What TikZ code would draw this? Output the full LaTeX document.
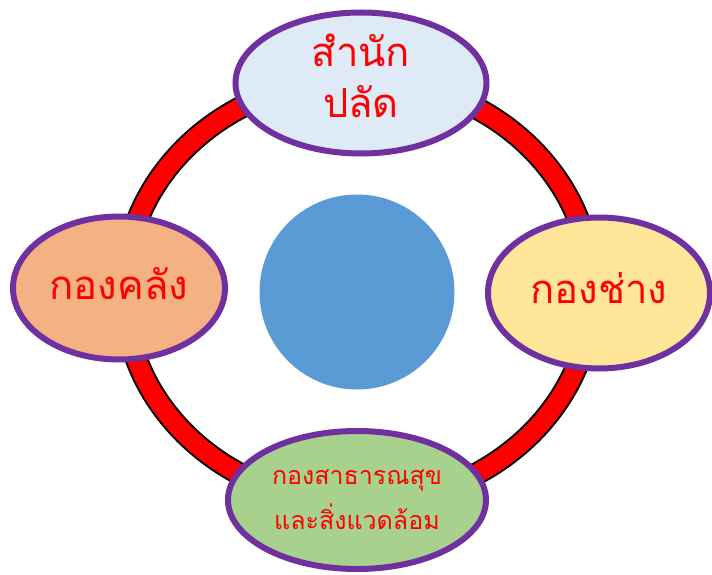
\documentclass[tikz,border=0pt]{standalone}
\usepackage{fontspec}
\newfontfamily\thaifont[Script=Thai]{Loma}
\usetikzlibrary{shapes.geometric}
\definecolor{ringred}{HTML}{FF0000}
\definecolor{bordpurple}{HTML}{7030A0}
\definecolor{centerblue}{HTML}{5B9BD5}
\definecolor{fillblue}{HTML}{DEEBF7}
\definecolor{fillorange}{HTML}{F4B183}
\definecolor{fillyellow}{HTML}{FFE699}
\definecolor{fillgreen}{HTML}{A9D18E}
\newcommand{\upl}[2][9pt]{\raisebox{#1}{#2}}
\tikzset{
  unit/.style={ellipse, draw=bordpurple, line width=6pt, inner sep=0pt, align=center,
    text=red, font=\thaifont\fontsize{40}{51}\selectfont},
}
\begin{document}
\begin{tikzpicture}[x=1pt,y=-1pt]
\useasboundingbox (0,0) rectangle (712,575);
% ring
\draw[black, line width=23pt] (358,291) ellipse [x radius=234, y radius=212];
\draw[ringred, line width=19pt] (358,291) ellipse [x radius=234, y radius=212];
% centre circle
\node[circle, fill=centerblue, minimum size=195pt, inner sep=0pt] (hub) at (357,292) {};
% units
\node[unit, fill=fillblue, minimum width=251pt, minimum height=141pt] (top) at (361,83)
  {\upl[15pt]{สำนัก}\\\upl[15pt]{ปลัด}};
\node[unit, fill=fillorange, minimum width=212pt, minimum height=143pt] (left) at (119,288)
  {\upl{กองคลัง}};
\node[unit, fill=fillyellow, minimum width=222pt, minimum height=151pt] (right) at (599,293)
  {\upl{กองช่าง}};
\node[unit, fill=fillgreen, minimum width=258pt, minimum height=138pt,
  font=\thaifont\fontsize{25}{45}\selectfont] (bottom) at (357,500)
  {กองสาธารณสุข\\และสิ่งแวดล้อม};
\end{tikzpicture}
\end{document}
